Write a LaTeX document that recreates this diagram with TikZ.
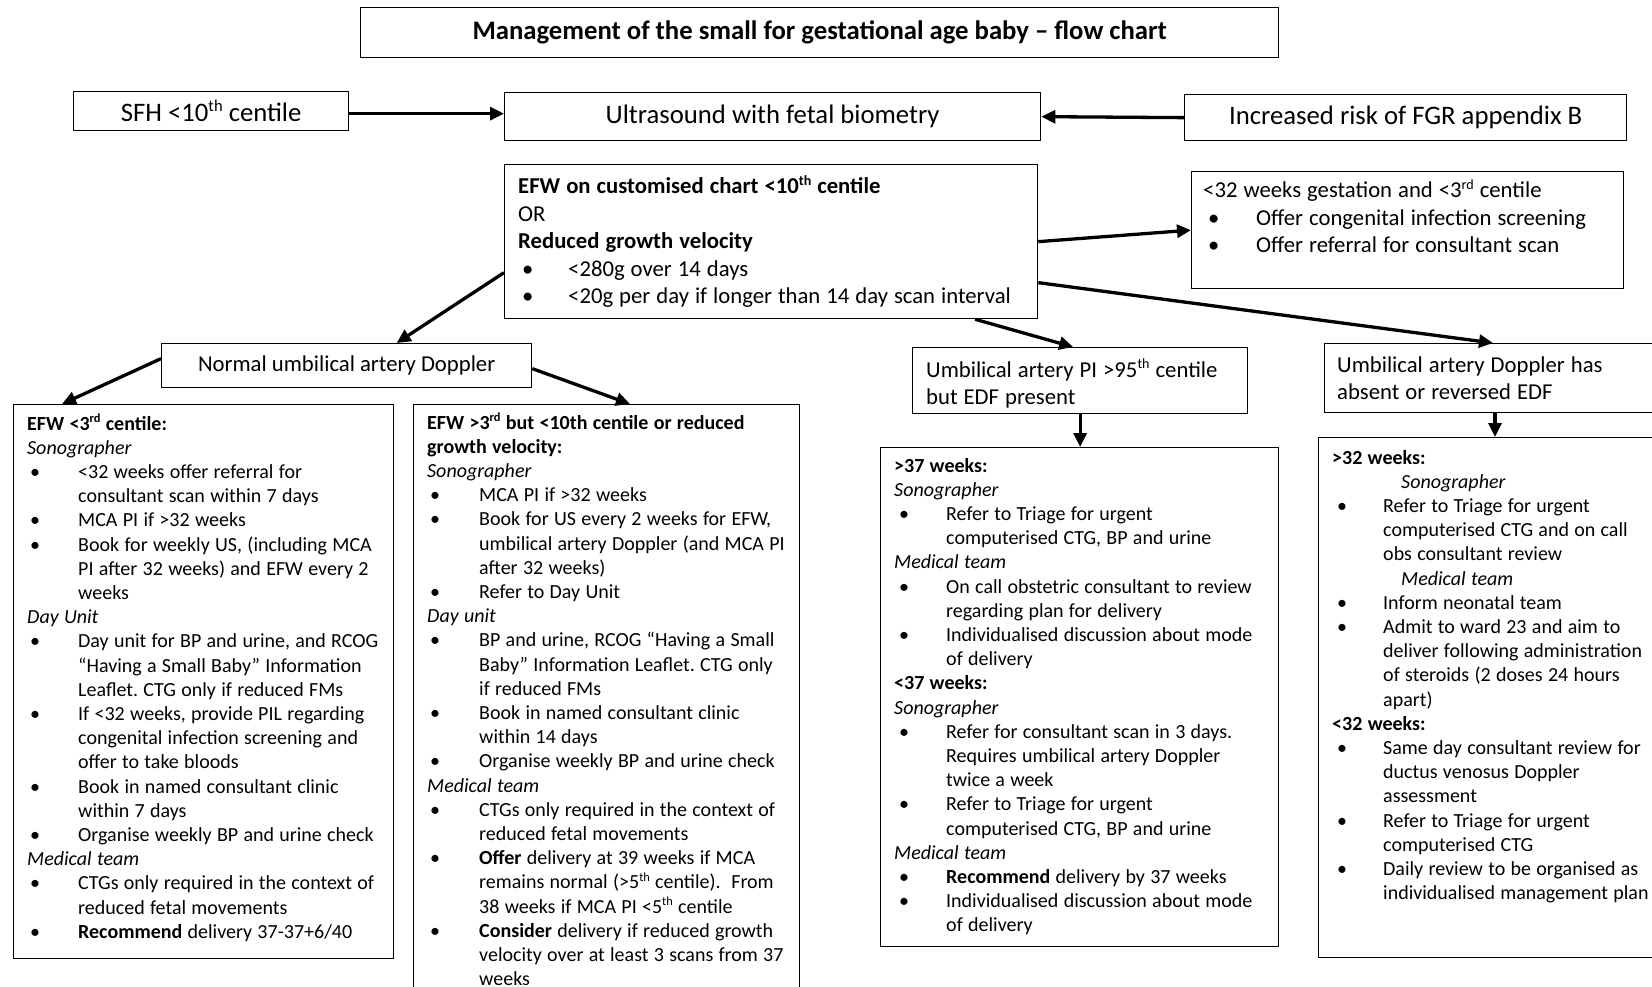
\documentclass[tikz,border=0pt]{standalone}
\usepackage{fontspec}
\usepackage{graphicx}
\setmainfont{Carlito}
\usetikzlibrary{arrows.meta}
\frenchspacing
\newlength{\bpos}\newlength{\bind}
\newcommand{\bi}[1]{\hangindent=\bind\hangafter=1\noindent\makebox[\bind][l]{\hspace{\bpos}•}#1\par}
\newcommand{\hd}[1]{\noindent #1\par}
\newcommand{\lnb}{\newline}
\newcommand{\wsp}{\spaceskip=0.265em\relax\xspaceskip=0.265em\relax}
\newcommand{\sups}[1]{\raisebox{0.36em}{\scalebox{0.62}{#1}}}
\newcommand{\sfont}{\fontsize{20pt}{24.2pt}\selectfont}
\newcommand{\mfont}{\fontsize{22.7pt}{27.5pt}\selectfont}
\newcommand{\lfont}{\fontsize{26.7pt}{32pt}\selectfont}
\tikzset{
  box/.style={draw, line width=1.3pt, inner sep=0pt, anchor=north west},
  txt/.style={inner sep=0pt, anchor=base west, align=left, text width=700pt},
  arr/.style={-{Triangle[length=14pt,width=13pt]}, line width=3.3pt},
}
\begin{document}
\begin{tikzpicture}[x=1pt,y=-1pt]
\useasboundingbox (0,0) rectangle (1652,987);
\fill[white] (0,0) rectangle (1652,987);

% top row
\node[box, minimum width=918pt, minimum height=50pt, font=\lfont\bfseries] (title) at (360,7) {Management of the small for gestational age baby – flow chart};
\node[box, minimum width=275pt, minimum height=39pt, font=\lfont] (sfh) at (73,91) {SFH <10\sups{th} centile};
\node[box, minimum width=536pt, minimum height=48pt, font=\lfont] (us) at (504,92) {Ultrasound with fetal biometry};
\node[box, minimum width=442pt, minimum height=46pt, font=\lfont] (incr) at (1184,94) {Increased risk of FGR appendix B};

% EFW box
\node[box, minimum width=533pt, minimum height=154pt] (efw) at (504,164) {};
\node[txt, font=\mfont] (efwt) at (518,194) {\wsp\setlength{\bpos}{4pt}\setlength{\bind}{50pt}%
\hd{\textbf{EFW on customised chart <10\sups{th} centile}}%
\hd{OR}%
\hd{\textbf{Reduced growth velocity}}%
\bi{<280g over 14 days}%
\bi{<20g per day if longer than 14 day scan interval}};

% <32 box
\node[box, minimum width=432pt, minimum height=117pt] (c32) at (1191,171) {};
\node[txt, font=\mfont] (c32t) at (1203,198) {\wsp\setlength{\bpos}{5pt}\setlength{\bind}{53pt}%
\hd{<32 weeks gestation and <3\sups{rd} centile}%
\bi{Offer congenital infection screening}%
\bi{Offer referral for consultant scan}};

% second row
\node[box, minimum width=370pt, minimum height=44pt, font=\mfont] (normal) at (161,343) {Normal umbilical artery Doppler};

\node[box, minimum width=335pt, minimum height=66pt] (uapi) at (912,347) {};
\node[txt, font=\mfont] (uapit) at (926,377) {\wsp Umbilical artery PI >95\sups{th} centile\lnb but EDF present};

\node[box, minimum width=346pt, minimum height=69pt] (uaabs) at (1324,343) {};
\node[txt, font=\mfont] (uaabst) at (1337,372) {\wsp Umbilical artery Doppler has\lnb absent or reversed EDF};

% bottom boxes
\node[box, minimum width=380pt, minimum height=554pt] (b3) at (13,404) {};
\node[txt, font=\sfont] (b3t) at (27,430) {\wsp\setlength{\bpos}{3pt}\setlength{\bind}{51pt}%
\hd{\textbf{EFW <3\sups{rd} centile:}}%
\hd{\textit{Sonographer}}%
\bi{<32 weeks offer referral for\lnb consultant scan within 7 days}%
\bi{MCA PI if >32 weeks}%
\bi{Book for weekly US, (including MCA\lnb PI after 32 weeks) and EFW every 2\lnb weeks}%
\hd{\textit{Day Unit}}%
\bi{Day unit for BP and urine, and RCOG\lnb “Having a Small Baby” Information\lnb Leaflet. CTG only if reduced FMs}%
\bi{If <32 weeks, provide PIL regarding\lnb congenital infection screening and\lnb offer to take bloods}%
\bi{Book in named consultant clinic\lnb within 7 days}%
\bi{Organise weekly BP and urine check}%
\hd{\textit{Medical team}}%
\bi{CTGs only required in the context of\lnb reduced fetal movements}%
\bi{\textbf{Recommend} delivery 37-37+6/40}};

\node[box, minimum width=386pt, minimum height=600pt] (b10) at (413,404) {};
\node[txt, font=\sfont] (b10t) at (427,429) {\wsp\setlength{\bpos}{3pt}\setlength{\bind}{52pt}%
\hd{\textbf{EFW >3\sups{rd} but <10th centile or reduced\lnb growth velocity:}}%
\hd{\textit{Sonographer}}%
\bi{MCA PI if >32 weeks}%
\bi{Book for US every 2 weeks for EFW,\lnb umbilical artery Doppler (and MCA PI\lnb after 32 weeks)}%
\bi{Refer to Day Unit}%
\hd{\textit{Day unit}}%
\bi{BP and urine, RCOG “Having a Small\lnb Baby” Information Leaflet. CTG only\lnb if reduced FMs}%
\bi{Book in named consultant clinic\lnb within 14 days}%
\bi{Organise weekly BP and urine check}%
\hd{\textit{Medical team}}%
\bi{CTGs only required in the context of\lnb reduced fetal movements}%
\bi{\textbf{Offer} delivery at 39 weeks if MCA\lnb remains normal (>5\sups{th} centile).\ \ From\lnb 38 weeks if MCA PI <5\sups{th} centile}%
\bi{\textbf{Consider} delivery if reduced growth\lnb velocity over at least 3 scans from 37\lnb weeks}};

\node[box, minimum width=398pt, minimum height=499pt] (b37) at (880,447) {};
\node[txt, font=\sfont] (b37t) at (894,472) {\wsp\setlength{\bpos}{5pt}\setlength{\bind}{52pt}%
\hd{\textbf{>37 weeks:}}%
\hd{\textit{Sonographer}}%
\bi{Refer to Triage for urgent\lnb computerised CTG, BP and urine}%
\hd{\textit{Medical team}}%
\bi{On call obstetric consultant to review\lnb regarding plan for delivery}%
\bi{Individualised discussion about mode\lnb of delivery}%
\hd{\textbf{<37 weeks:}}%
\hd{\textit{Sonographer}}%
\bi{Refer for consultant scan in 3 days.\lnb Requires umbilical artery Doppler\lnb twice a week}%
\bi{Refer to Triage for urgent\lnb computerised CTG, BP and urine}%
\hd{\textit{Medical team}}%
\bi{\textbf{Recommend} delivery by 37 weeks}%
\bi{Individualised discussion about mode\lnb of delivery}};

\node[box, minimum width=352pt, minimum height=520pt] (b32) at (1318,437) {};
\node[txt, font=\sfont] (b32t) at (1332,464) {\wsp\setlength{\bpos}{5pt}\setlength{\bind}{51pt}%
\hd{\textbf{>32 weeks:}}%
\hd{\hspace*{69pt}\textit{Sonographer}}%
\bi{Refer to Triage for urgent\lnb computerised CTG and on call\lnb obs consultant review}%
\hd{\hspace*{69pt}\textit{Medical team}}%
\bi{Inform neonatal team}%
\bi{Admit to ward 23 and aim to\lnb deliver following administration\lnb of steroids (2 doses 24 hours\lnb apart)}%
\hd{\textbf{<32 weeks:}}%
\bi{Same day consultant review for\lnb ductus venosus Doppler\lnb assessment}%
\bi{Refer to Triage for urgent\lnb computerised CTG}%
\bi{Daily review to be organised as\lnb individualised management plan}};

% connectors
\draw[arr] ([yshift=-2.5pt]sfh.east) -- ([yshift=3pt]us.west);
\draw[arr] (incr.west) -- (us.east);
\draw[arr] (efw.east) -- (c32.west);
\draw[arr] ([yshift=-31pt]efw.west) -- ([xshift=50pt]normal.north);
\draw[arr] ([yshift=7pt]normal.west) -- ([xshift=49pt]b3.north west);
\draw[arr] ([yshift=-3pt]normal.east) -- ([xshift=217pt]b10.north west);
\draw[arr] ([xshift=204pt]efw.south) -- ([xshift=-7pt]uapi.north);
\draw[arr] ([yshift=-41pt]efw.east) -- ([xshift=169pt]uaabs.north west);
\draw[arr] (uapi.south) -- (uapi.south |- b37.north);
\draw[arr] ([xshift=171pt]uaabs.south west) -- ([xshift=171pt]uaabs.south west |- b32.north);
\end{tikzpicture}
\end{document}
